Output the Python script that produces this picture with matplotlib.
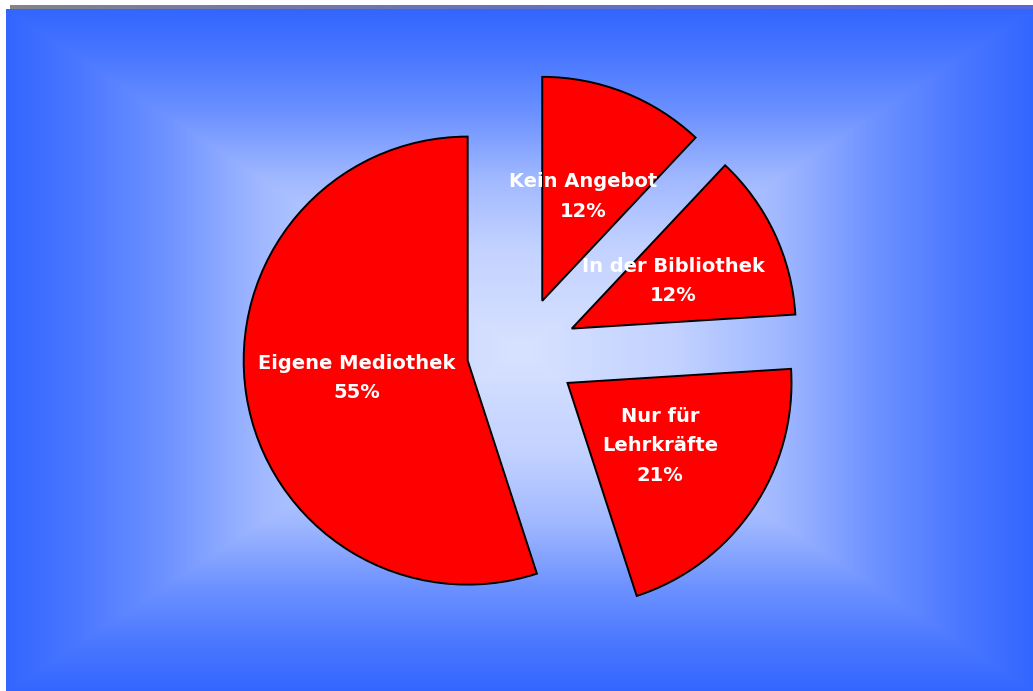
import numpy as np
import matplotlib
matplotlib.use("Agg")
import matplotlib.pyplot as plt

# Nutzung von Mediotheken (Anteile in %)
kategorien = ["Eigene Mediothek", "Nur für\nLehrkräfte", "In der Bibliothek", "Kein Angebot"]
anteile = [55, 21, 12, 12]

W, H = 1033, 691

# background: rectangular gradient, light in the middle, blue at the borders
ys, xs = np.mgrid[0:H, 0:W]
cx, cy = (6 + W) / 2, (9 + H) / 2
t = np.maximum(np.abs(xs - cx) / ((W - 6) / 2), np.abs(ys - cy) / ((H - 9) / 2))
t = np.clip(t, 0, 1)
# the colour ramp is not linear: stays light longer towards the middle
t = np.interp(t, [0, 0.3, 0.5, 0.55, 0.7, 0.86, 1.0],
                 [0, 0.13, 0.33, 0.41, 0.66, 0.86, 1.0])[..., None]
mitte = np.array([0xD8, 0xE2, 0xFF]) / 255
rand = np.array([0x33, 0x66, 0xFF]) / 255
img = mitte * (1 - t) + rand * t
img = np.concatenate([img, np.ones((H, W, 1))], axis=2)
img[:9, :, 3] = 0
img[:, :6, 3] = 0
# thin grey line above the panel, fading into blue
s = np.clip((np.arange(W) - 10) / (W - 10), 0, 1)[:, None] ** 0.7
grau = np.array([0x85, 0x85, 0x85]) / 255 * (1 - s) + np.array([0x55, 0x66, 0xE0]) / 255 * s
img[5:9, 10:, :3] = grau[10:]
img[5:9, 10:, 3] = 1

fig = plt.figure(figsize=(W / 100, H / 100), dpi=100)
ax = fig.add_axes([0, 0, 1, 1])
ax.imshow(img, extent=(0, W, 0, H), origin="upper", zorder=0)

# explode is given in data units (pixels here)
wedges, texts, autotexts = ax.pie(
    anteile,
    explode=[55] * len(anteile),
    center=(522, H - 352),
    radius=224,
    startangle=90,
    counterclock=True,
    colors=["#FF0000"] * len(anteile),
    wedgeprops=dict(edgecolor="black", linewidth=1.4),
    autopct="%d%%",
    pctdistance=0.5,
    frame=True,
)

for txt, name, wert in zip(autotexts, kategorien, anteile):
    txt.set_text(f"{name}\n{wert}%")
    txt.set_color("white")
    txt.set_fontsize(14)
    txt.set_fontweight("bold")
    txt.set_family("DejaVu Sans")
    txt.set_linespacing(1.7)
    txt.set_multialignment("center")

ax.set_xlim(0, W)
ax.set_ylim(0, H)
ax.set_aspect("auto")
ax.axis("off")

fig.savefig("out.png", dpi=100, facecolor="white")
